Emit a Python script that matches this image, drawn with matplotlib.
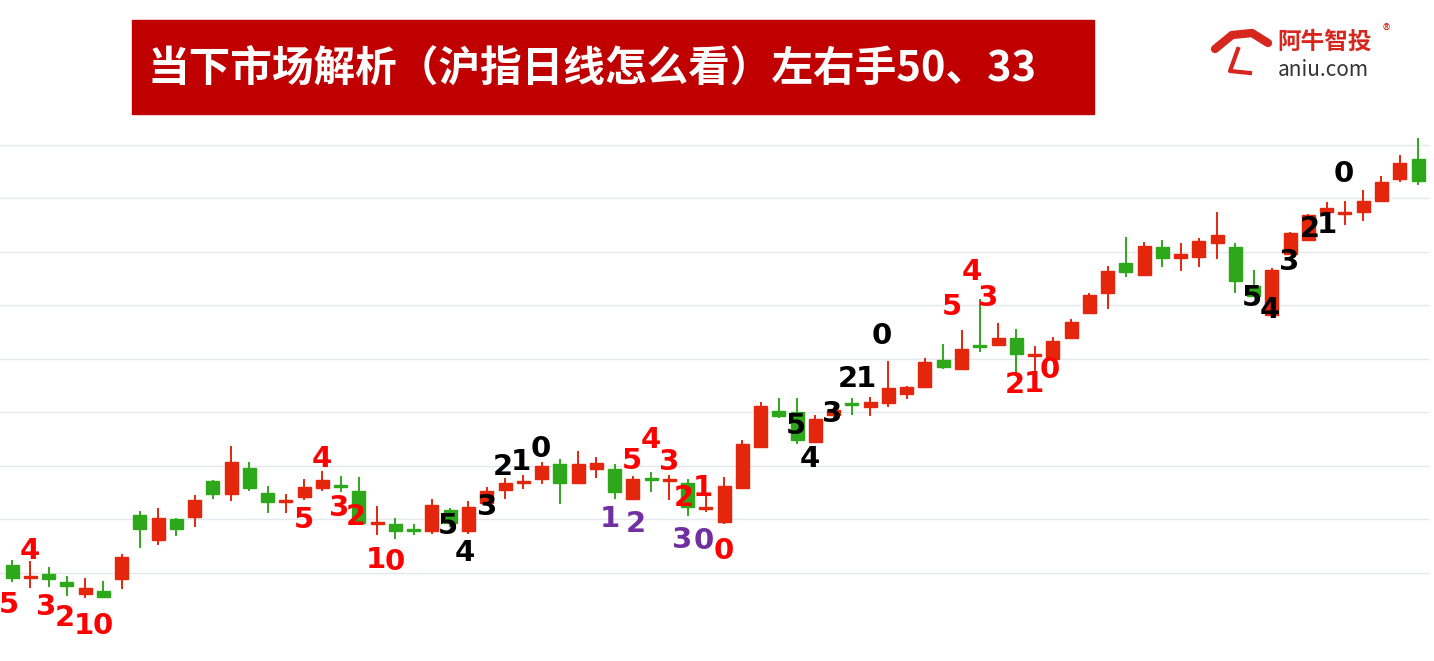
import matplotlib.pyplot as plt
from matplotlib.patches import Rectangle

plt.rcParams["font.family"] = ["Noto Sans CJK SC", "DejaVu Sans"]

# 日K数据 (读图，单位=点位相对值)
opens = [96, 83, 87, 79, 67, 70, 82, 146, 121, 142, 144, 180, 167, 193, 168, 159, 164, 173, 175, 170,
         137, 137, 131, 130, 151, 130, 158, 171, 178, 182, 197, 178, 192, 192, 162, 182, 180, 178, 152,
         139, 173, 214, 250, 249, 219, 246, 257, 254, 258, 267, 274, 301, 292, 315, 316, 323, 305, 302,
         323, 348, 368, 398, 386, 414, 403, 404, 418, 414, 375, 346, 407, 421, 449, 447, 449, 460, 482, 502]
closes = [83, 84, 82, 75, 73, 64, 104, 132, 143, 132, 161, 167, 199, 173, 159, 160, 174, 181, 174, 138,
          138, 130, 130, 156, 138, 154, 170, 178, 179, 195, 178, 197, 198, 169, 182, 181, 181, 154, 153,
          175, 217, 255, 245, 221, 242, 251, 256, 259, 273, 274, 299, 294, 312, 314, 323, 307, 306, 320,
          339, 366, 390, 389, 415, 403, 407, 420, 426, 380, 365, 391, 428, 446, 453, 448, 460, 479, 498, 480]
highs = [100, 99, 93, 84, 82, 79, 106, 149, 152, 142, 165, 180, 214, 198, 174, 166, 181, 189, 184, 183,
         154, 142, 136, 161, 152, 159, 173, 182, 185, 198, 201, 209, 203, 196, 184, 188, 185, 181, 164,
         183, 220, 258, 262, 262, 245, 253, 262, 263, 299, 274, 302, 316, 330, 361, 337, 331, 314, 323,
         341, 367, 394, 423, 418, 420, 417, 422, 448, 417, 390, 392, 428, 446, 458, 459, 470, 484, 505, 522]
lows = [80, 74, 75, 66, 64, 64, 73, 114, 117, 126, 135, 163, 161, 171, 149, 149, 162, 171, 170, 138,
        127, 123, 127, 128, 135, 128, 156, 163, 173, 178, 158, 178, 184, 163, 162, 170, 162, 146, 150,
        138, 173, 214, 244, 218, 219, 244, 247, 246, 255, 263, 274, 293, 292, 310, 316, 288, 291, 302,
        323, 348, 353, 385, 386, 395, 391, 395, 403, 369, 365, 346, 407, 421, 449, 437, 441, 460, 480, 477]

grid_levels = [516, 463, 409, 356, 302, 249, 195, 142, 88]

# 浪形标注: (x, y, 文字, 颜色)
labels = [
    (9, 56, "5", "red"), (30, 110, "4", "red"), (46, 54, "3", "red"), (65, 43, "2", "red"),
    (84, 35, "1", "red"), (103, 35, "0", "red"),
    (322, 202, "4", "red"), (304, 141, "5", "red"), (339, 153, "3", "red"), (356, 144, "2", "red"),
    (376, 101, "1", "red"), (395, 99, "0", "red"),
    (448, 135, "5", "black"), (465, 108, "4", "black"), (487, 154, "3", "black"),
    (503, 194, "2", "black"), (521, 199, "1", "black"), (541, 212, "0", "black"),
    (632, 200, "5", "red"), (651, 221, "4", "red"), (669, 199, "3", "red"),
    (684, 163, "2", "red"), (703, 173, "1", "red"), (724, 110, "0", "red"),
    (610, 142, "1", "#7030a0"), (636, 137, "2", "#7030a0"), (682, 121, "3", "#7030a0"),
    (704, 120, "0", "#7030a0"),
    (796, 235, "5", "black"), (810, 202, "4", "black"), (832, 247, "3", "black"),
    (848, 282, "2", "black"), (866, 282, "1", "black"), (882, 325, "0", "black"),
    (952, 354, "5", "red"), (972, 389, "4", "red"), (988, 363, "3", "red"),
    (1015, 276, "2", "red"), (1034, 277, "1", "red"), (1050, 291, "0", "red"),
    (1252, 363, "5", "black"), (1270, 351, "4", "black"), (1289, 399, "3", "black"),
    (1310, 432, "2", "black"), (1327, 436, "1", "black"), (1344, 487, "0", "black"),
]

RED, GREEN = "#e3260c", "#2ea81b"

fig = plt.figure(figsize=(14.34, 6.61), dpi=100)
ax = fig.add_axes([0, 0, 1, 1])
ax.set_xlim(0, 1434)
ax.set_ylim(0, 661)
ax.axis("off")

for g in grid_levels:
    ax.plot([0, 1428], [g, g], color="#e3e8ee", lw=1, zorder=0)

step = (1418 - 12) / (len(opens) - 1)
for i, (o, c, h, l) in enumerate(zip(opens, closes, highs, lows)):
    x = 12 + i * step
    col = RED if c >= o else GREEN
    ax.plot([x, x], [l, h], color=col, lw=1.4, zorder=2)
    lo, hi = min(o, c), max(o, c)
    ax.add_patch(Rectangle((x - 6.5, lo), 13, max(hi - lo, 1.8), color=col, zorder=3))

for x, y, t, c in labels:
    ax.text(x, y, t, color=c, fontsize=21, fontweight="bold", ha="center", va="center",
            family="DejaVu Sans", zorder=5)

# 标题
ax.add_patch(Rectangle((132, 547), 962, 94, color="#c00000", zorder=4))
ax.text(148, 592, "当下市场解析（沪指日线怎么看）左右手50、33", color="white", fontsize=30,
        fontweight="bold", va="center", ha="left", zorder=6)

# logo
ax.text(1277, 619, "阿牛智投", color="#d7261e", fontsize=17, fontweight="bold", va="center", ha="left")
ax.text(1383, 630, "®", color="#d7261e", fontsize=11, va="center", ha="left")
ax.text(1278, 591, "aniu.com", color="#333333", fontsize=15, va="center", ha="left")
ax.plot([1215, 1232, 1252, 1268], [612, 626, 628, 618], color="#d7261e", lw=6, solid_capstyle="round")
ax.plot([1238, 1230, 1250], [612, 590, 588], color="#d7261e", lw=3)

fig.savefig("out.png", dpi=100)
